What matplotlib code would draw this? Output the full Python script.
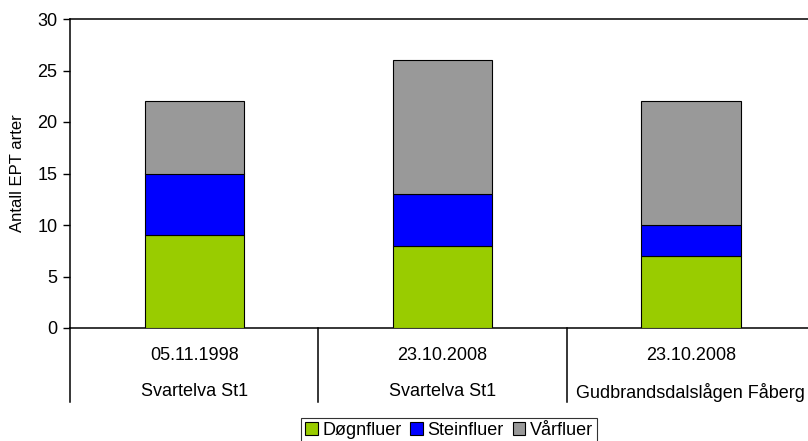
import numpy as np
import matplotlib.pyplot as plt
from matplotlib.patches import Rectangle

plt.rcParams["font.family"] = ["Liberation Sans", "DejaVu Sans"]

dates = ["05.11.1998", "23.10.2008", "23.10.2008"]
sites = ["Svartelva St1", "Svartelva St1", "Gudbrandsdalslågen Fåberg"]
series = ["Døgnfluer", "Steinfluer", "Vårfluer"]
dogn = [9, 8, 7]
stein = [6, 5, 3]
vaar = [7, 13, 12]
colors = ["#99CC00", "#0000FF", "#999999"]

W, H = 808, 441
fig = plt.figure(figsize=(W / 100, H / 100), dpi=100)
# plot area runs past the right edge of the figure
left, right, top, bottom = 70, 815, 19, 328
ax = fig.add_axes([left / W, 1 - bottom / H, (right - left) / W, (bottom - top) / H])

x = np.arange(len(dates))
base = np.zeros(len(dates))
for vals, col, name in zip([dogn, stein, vaar], colors, series):
    ax.bar(x, vals, width=0.4, bottom=base, color=col, edgecolor="black",
           linewidth=0.8, label=name, zorder=3)
    base += np.array(vals)

ax.set_xlim(-0.5, len(dates) - 0.5)
ax.set_ylim(0, 30)
ax.set_yticks(range(0, 31, 5))
ax.tick_params(axis="y", labelsize=13, length=5, width=1, direction="out", pad=4)
ax.set_xticks([])
ax.spines["right"].set_visible(False)
for s in ["left", "top", "bottom"]:
    ax.spines[s].set_linewidth(1.1)
ax.set_ylabel("Antall EPT arter", fontsize=12, labelpad=9)

# two-level category axis
tr = ax.get_xaxis_transform()
axis_h = bottom - top
depth = (402 - bottom) / axis_h
for xi in np.arange(-0.5, len(dates), 1.0):
    ax.plot([xi, xi], [0, -depth], color="black", lw=1.1, transform=tr, clip_on=False)
for xi, d, s in zip(x, dates, sites):
    ax.text(xi, -(355 - bottom) / axis_h, d, transform=tr, ha="center", va="center", fontsize=13)
    ax.text(xi, -(392 - bottom) / axis_h, s, transform=tr, ha="center", va="center", fontsize=13)

handles = [Rectangle((0, 0), 1, 1, facecolor=c, edgecolor="black", lw=0.8) for c in colors]
leg = fig.legend(handles, series, loc="upper center", bbox_to_anchor=(449 / W, 1 - 418 / H),
                 ncol=3, frameon=True, fancybox=False, fontsize=13, handlelength=0.7,
                 handleheight=0.7, handletextpad=0.25, columnspacing=0.5,
                 borderpad=0.2, borderaxespad=0)
leg.get_frame().set_edgecolor("black")
leg.get_frame().set_linewidth(0.8)

fig.savefig("out.png", dpi=100)
